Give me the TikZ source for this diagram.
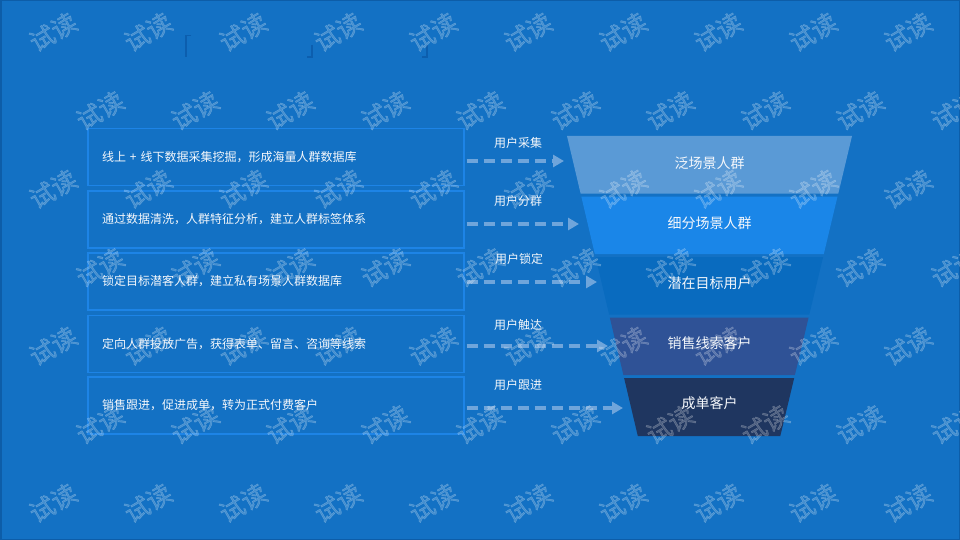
\documentclass[tikz,border=0pt]{standalone}
\usepackage{fontspec}
\setmainfont{Noto Sans CJK SC}
\newfontfamily\wmfont{Noto Sans CJK SC}[FakeBold=1.6]
\usetikzlibrary{arrows.meta}
\definecolor{bgc}{HTML}{1371C4}
\definecolor{framec}{HTML}{0D5DA8}
\definecolor{boxc}{HTML}{1D84E6}
\definecolor{arrc}{HTML}{6FA5DB}
\definecolor{lay1}{HTML}{5E9DD8}
\definecolor{lay2}{HTML}{1A86E8}
\definecolor{lay3}{HTML}{096BBF}
\definecolor{lay4}{HTML}{2F5296}
\definecolor{lay5}{HTML}{1F3660}
\definecolor{brk}{HTML}{0C5EAE}
\definecolor{txt}{HTML}{F4F7FB}
\begin{document}
\begin{tikzpicture}[x=1pt,y=-1pt,
  descbox/.style={draw=boxc, line width=1.2pt, minimum width=376pt, minimum height=57pt,
    text width=348pt, align=left, inner sep=0pt, text=txt, font=\fontsize{12}{14}\selectfont},
  layerlabel/.style={text=txt, inner sep=0pt, font=\fontsize{14}{16}\selectfont},
  steplabel/.style={text=txt, inner sep=0pt, font=\fontsize{12}{14}\selectfont},
  flow/.style={draw=arrc, line width=3.6pt, dash pattern=on 11pt off 6pt,
    -{Triangle[length=11pt,width=12pt]}, shorten <=2pt},
  bracket/.style={draw=brk, line width=1.2pt},
  wmark/.style={text=white, text opacity=0.21, rotate=30, inner sep=0pt,
    font=\wmfont\fontsize{25}{25}\selectfont}
]
\useasboundingbox (0,0) rectangle (960,540);
\fill[bgc] (0,0) rectangle (960,540);
\draw[framec, line width=1.5pt] (0.75,0.75) rectangle (959.25,539.25);

% title placeholder brackets
\draw[bracket] (191,35.5) -- (186,35.5) -- (186,57);
\draw[bracket] (312,45) -- (312,57) -- (307,57);
\draw[bracket] (427,45) -- (427,57) -- (422,57);

% description boxes
\node[descbox] (b1) at (276,157)   {线上 + 线下数据采集挖掘，形成海量人群数据库};
\node[descbox] (b2) at (276,219.5) {通过数据清洗，人群特征分析，建立人群标签体系};
\node[descbox] (b3) at (276,281.5) {锁定目标潜客人群，建立私有场景人群数据库};
\node[descbox] (b4) at (276,344)   {定向人群投放广告，获得表单、留言、咨询等线索};
\node[descbox] (b5) at (276,405.5) {销售跟进，促进成单，转为正式付费客户};

% funnel layers
\fill[lay1, opacity=0.95] (567,136) -- (852,136) -- (838.3,193.5) -- (580.6,193.5) -- cycle;
\fill[lay2] (581.3,196.5) -- (837.5,196.5) -- (823.8,254) -- (594.8,254) -- cycle;
\fill[lay3] (595.6,257) -- (823.1,257) -- (809.3,314.5) -- (609.1,314.5) -- cycle;
\fill[lay4] (609.8,317.5) -- (808.6,317.5) -- (794.9,375) -- (623.4,375) -- cycle;
\fill[lay5] (624.1,378) -- (794.2,378) -- (780.3,436) -- (637.8,436) -- cycle;

\node[layerlabel] (f1) at (709.5,163.5) {泛场景人群};
\node[layerlabel] (f2) at (709.5,223.5) {细分场景人群};
\node[layerlabel] (f3) at (709.5,283.5) {潜在目标用户};
\node[layerlabel] (f4) at (709.5,343.5) {销售线索客户};
\node[layerlabel] (f5) at (709.5,403.5) {成单客户};

% arrows
\coordinate (e1) at (564,161);
\coordinate (e2) at (579,224);
\coordinate (e3) at (597,282);
\coordinate (e4) at (608,346);
\coordinate (e5) at (623,408);
\draw[flow] (b1.east |- e1) -- (e1);
\draw[flow] (b2.east |- e2) -- (e2);
\draw[flow] (b3.east |- e3) -- (e3);
\draw[flow] (b4.east |- e4) -- (e4);
\draw[flow] (b5.east |- e5) -- (e5);

\node[steplabel] (s1) at (518,143) {用户采集};
\node[steplabel] (s2) at (518,201) {用户分群};
\node[steplabel] (s3) at (519,259) {用户锁定};
\node[steplabel] (s4) at (518,325) {用户触达};
\node[steplabel] (s5) at (518,385) {用户跟进};

% watermark
\foreach \j in {0,...,6} {
  \pgfmathsetmacro{\yy}{32+78.5*\j}
  \pgfmathsetmacro{\xo}{mod(\j,2)==0 ? 53 : 100}
  \foreach \k in {0,...,9} {
    \node[wmark, name=wm-\j-\k] at (\xo+95*\k,\yy) {试读};
  }
}
\end{tikzpicture}
\end{document}
